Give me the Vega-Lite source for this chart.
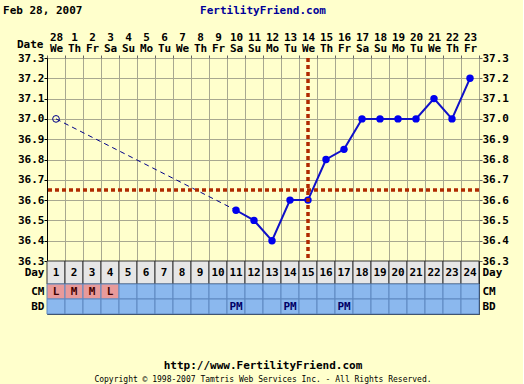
{
  "$schema": "https://vega.github.io/schema/vega-lite/v6.json",
  "background": "#FFFFCC",
  "padding": {"left": 3, "right": 14, "top": 4, "bottom": 0},
  "title": {"text": "Feb 28, 2007", "anchor": "start", "frame": "bounds", "font": "DejaVu Sans Mono", "fontSize": 11, "fontWeight": "bold", "color": "#000000", "dx": -13, "dy": 13, "offset": 2},
  "spacing": 0,
  "bounds": "flush",
  "config": {
    "font": "DejaVu Sans Mono",
    "view": {"stroke": "#A8A890", "fill": "#FFFFCC"},
    "axis": {"labelFont": "DejaVu Sans Mono", "labelFontSize": 11, "labelFontWeight": "bold", "labelColor": "#000000", "labelOverlap": false, "labelFlush": false, "titleFont": "DejaVu Sans Mono"}
  },
  "datasets": {
    "temps": [
      {"day": 1, "temp": 37.0},
      {"day": 11, "temp": 36.55},
      {"day": 12, "temp": 36.5},
      {"day": 13, "temp": 36.4},
      {"day": 14, "temp": 36.6},
      {"day": 15, "temp": 36.6},
      {"day": 16, "temp": 36.8},
      {"day": 17, "temp": 36.85},
      {"day": 18, "temp": 37.0},
      {"day": 19, "temp": 37.0},
      {"day": 20, "temp": 37.0},
      {"day": 21, "temp": 37.0},
      {"day": 22, "temp": 37.1},
      {"day": 23, "temp": 37.0},
      {"day": 24, "temp": 37.2}
    ],
    "coverline": [{"temp": 36.65}],
    "ovulation": [{"day": 15}],
    "days": [
      {"day": 1, "cm": "L", "bd": null},
      {"day": 2, "cm": "M", "bd": null},
      {"day": 3, "cm": "M", "bd": null},
      {"day": 4, "cm": "L", "bd": null},
      {"day": 5, "cm": null, "bd": null},
      {"day": 6, "cm": null, "bd": null},
      {"day": 7, "cm": null, "bd": null},
      {"day": 8, "cm": null, "bd": null},
      {"day": 9, "cm": null, "bd": null},
      {"day": 10, "cm": null, "bd": null},
      {"day": 11, "cm": null, "bd": "PM"},
      {"day": 12, "cm": null, "bd": null},
      {"day": 13, "cm": null, "bd": null},
      {"day": 14, "cm": null, "bd": "PM"},
      {"day": 15, "cm": null, "bd": null},
      {"day": 16, "cm": null, "bd": null},
      {"day": 17, "cm": null, "bd": "PM"},
      {"day": 18, "cm": null, "bd": null},
      {"day": 19, "cm": null, "bd": null},
      {"day": 20, "cm": null, "bd": null},
      {"day": 21, "cm": null, "bd": null},
      {"day": 22, "cm": null, "bd": null},
      {"day": 23, "cm": null, "bd": null},
      {"day": 24, "cm": null, "bd": null}
    ]
  },
  "vconcat": [
    {
      "width": 432,
      "height": 203,
      "title": {"text": "FertilityFriend.com", "anchor": "middle", "font": "DejaVu Sans Mono", "fontSize": 11, "fontWeight": "bold", "color": "#000099", "offset": 15},
      "layer": [
        {
          "data": {"name": "temps"},
          "transform": [{"filter": "datum.day == 1 || datum.day == 11"}],
          "mark": {"type": "line", "color": "#000088", "strokeWidth": 1, "strokeDash": [5, 4]},
          "encoding": {
            "x": {"field": "day", "type": "ordinal", "scale": {"domain": [1,2,3,4,5,6,7,8,9,10,11,12,13,14,15,16,17,18,19,20,21,22,23,24], "paddingInner": 0, "paddingOuter": 0},
              "axis": {"orient": "top", "tickBand": "extent", "grid": true, "gridColor": "#A8A890", "gridOpacity": 1, "domain": false, "ticks": true, "tickSize": 3, "tickColor": "#666666", "labelAngle": 0, "labelPadding": 2,
                "labelExpr": "['Su','Mo','Tu','We','Th','Fr','Sa'][day(datetime(2007, 1, 27 + datum.value))]",
                "title": "Date", "titleFontSize": 11, "titleFontWeight": "bold", "titleColor": "#000000", "titleAngle": 0, "titleAnchor": "start", "titleAlign": "right", "titleBaseline": "middle", "titleX": -4, "titleY": -14}},
            "y": {"field": "temp", "type": "quantitative", "scale": {"domain": [36.3, 37.3], "zero": false, "nice": false}, "axis": null}
          }
        },
        {
          "data": {"name": "temps"},
          "transform": [{"filter": "datum.day >= 11"}],
          "mark": {"type": "line", "color": "#1010C8", "strokeWidth": 2},
          "encoding": {
            "x": {"field": "day", "type": "ordinal", "scale": {"domain": [1,2,3,4,5,6,7,8,9,10,11,12,13,14,15,16,17,18,19,20,21,22,23,24], "paddingInner": 0, "paddingOuter": 0},
              "axis": {"orient": "top", "offset": 16, "grid": false, "domain": false, "ticks": false, "labelAngle": 0, "labelPadding": 0, "title": null,
                "labelExpr": "toString(date(datetime(2007, 1, 27 + datum.value)))"}},
            "y": {"field": "temp", "type": "quantitative", "scale": {"domain": [36.3, 37.3], "zero": false, "nice": false},
              "axis": {"orient": "left", "values": [36.3,36.4,36.5,36.6,36.7,36.8,36.9,37.0,37.1,37.2,37.3], "format": ".1f", "grid": true, "gridColor": "#A8A890", "gridOpacity": 1, "domainColor": "#000000", "tickColor": "#000000", "tickSize": 3, "labelPadding": 0, "title": null}}
          }
        },
        {
          "data": {"name": "temps"},
          "transform": [{"filter": "datum.day >= 11"}],
          "mark": {"type": "point", "filled": true, "size": 55, "color": "#0000EE", "opacity": 1},
          "encoding": {
            "x": {"field": "day", "type": "ordinal", "scale": {"domain": [1,2,3,4,5,6,7,8,9,10,11,12,13,14,15,16,17,18,19,20,21,22,23,24], "paddingInner": 0, "paddingOuter": 0}, "axis": null},
            "y": {"field": "temp", "type": "quantitative", "scale": {"domain": [36.3, 37.3], "zero": false, "nice": false},
              "axis": {"orient": "right", "values": [36.3,36.4,36.5,36.6,36.7,36.8,36.9,37.0,37.1,37.2,37.3], "format": ".1f", "grid": false, "domain": false, "tickColor": "#666666", "tickSize": 3, "labelPadding": 0, "title": null}}
          }
        },
        {
          "data": {"name": "temps"},
          "transform": [{"filter": "datum.day == 1"}],
          "mark": {"type": "point", "filled": false, "size": 45, "strokeWidth": 1, "color": "#000088", "opacity": 1},
          "encoding": {
            "x": {"field": "day", "type": "ordinal", "scale": {"domain": [1,2,3,4,5,6,7,8,9,10,11,12,13,14,15,16,17,18,19,20,21,22,23,24], "paddingInner": 0, "paddingOuter": 0}, "axis": null},
            "y": {"field": "temp", "type": "quantitative", "scale": {"domain": [36.3, 37.3], "zero": false, "nice": false}, "axis": null}
          }
        },
        {
          "data": {"name": "coverline"},
          "mark": {"type": "rule", "color": "#B02A00", "strokeWidth": 3.5, "strokeDash": [4, 3]},
          "encoding": {
            "y": {"field": "temp", "type": "quantitative", "scale": {"domain": [36.3, 37.3], "zero": false, "nice": false}, "axis": null}
          }
        },
        {
          "data": {"name": "ovulation"},
          "mark": {"type": "rule", "color": "#B02A00", "strokeWidth": 3.5, "strokeDash": [4, 3]},
          "encoding": {
            "x": {"field": "day", "type": "ordinal", "scale": {"domain": [1,2,3,4,5,6,7,8,9,10,11,12,13,14,15,16,17,18,19,20,21,22,23,24], "paddingInner": 0, "paddingOuter": 0}, "axis": null}
          }
        }
      ],
      "resolve": {"scale": {"x": "independent", "y": "independent"}, "axis": {"x": "independent", "y": "independent"}}
    },
    {
      "width": 432,
      "height": 23,
      "data": {"name": "days"},
      "view": {"stroke": "#222222"},
      "layer": [
        {
          "mark": {"type": "rect", "fill": "#E6E6E6", "stroke": "#333333", "strokeWidth": 1},
          "encoding": {
            "x": {"field": "day", "type": "ordinal", "scale": {"domain": [1,2,3,4,5,6,7,8,9,10,11,12,13,14,15,16,17,18,19,20,21,22,23,24], "paddingInner": 0, "paddingOuter": 0}, "axis": null},
            "y": {"datum": "Day", "type": "nominal", "scale": {"paddingInner": 0, "paddingOuter": 0}, "axis": {"orient": "right", "title": null, "domain": false, "ticks": false, "labelPadding": 3}}
          }
        },
        {
          "mark": {"type": "text", "font": "DejaVu Sans Mono", "fontSize": 11, "fontWeight": "bold", "color": "#000000"},
          "encoding": {
            "x": {"field": "day", "type": "ordinal"},
            "y": {"datum": "Day", "type": "nominal", "axis": {"orient": "left", "title": null, "domain": false, "ticks": false, "labelPadding": 3}},
            "text": {"field": "day"}
          }
        }
      ],
      "resolve": {"scale": {"y": "independent"}, "axis": {"y": "independent"}}
    },
    {
      "width": 432,
      "height": 15,
      "data": {"name": "days"},
      "view": {"stroke": "#222222"},
      "layer": [
        {
          "mark": {"type": "rect", "stroke": "#5F88C0", "strokeWidth": 1},
          "encoding": {
            "x": {"field": "day", "type": "ordinal", "scale": {"domain": [1,2,3,4,5,6,7,8,9,10,11,12,13,14,15,16,17,18,19,20,21,22,23,24], "paddingInner": 0, "paddingOuter": 0}, "axis": null},
            "y": {"datum": "CM", "type": "nominal", "scale": {"paddingInner": 0, "paddingOuter": 0}, "axis": {"orient": "right", "title": null, "domain": false, "ticks": false, "labelPadding": 3}},
            "fill": {"condition": {"test": "datum.cm != null", "value": "#E89A9A"}, "value": "#8BB8EE"}
          }
        },
        {
          "transform": [{"filter": "datum.cm != null"}],
          "mark": {"type": "text", "font": "DejaVu Sans Mono", "fontSize": 11, "fontWeight": "bold", "color": "#400000"},
          "encoding": {
            "x": {"field": "day", "type": "ordinal"},
            "y": {"datum": "CM", "type": "nominal", "axis": {"orient": "left", "title": null, "domain": false, "ticks": false, "labelPadding": 3}},
            "text": {"field": "cm"}
          }
        }
      ],
      "resolve": {"scale": {"y": "independent"}, "axis": {"y": "independent"}}
    },
    {
      "width": 432,
      "height": 15,
      "data": {"name": "days"},
      "view": {"stroke": "#222222"},
      "title": {"text": "http://www.FertilityFriend.com", "orient": "bottom", "anchor": "middle", "font": "DejaVu Sans Mono", "fontSize": 11, "fontWeight": "bold", "color": "#000000", "offset": 45,
        "subtitle": "Copyright © 1998-2007 Tamtris Web Services Inc. - All Rights Reserved.", "subtitleFont": "DejaVu Sans Mono", "subtitleFontSize": 8, "subtitleColor": "#000000", "subtitlePadding": 5},
      "layer": [
        {
          "mark": {"type": "rect", "fill": "#8BB8EE", "stroke": "#5F88C0", "strokeWidth": 1},
          "encoding": {
            "x": {"field": "day", "type": "ordinal", "scale": {"domain": [1,2,3,4,5,6,7,8,9,10,11,12,13,14,15,16,17,18,19,20,21,22,23,24], "paddingInner": 0, "paddingOuter": 0}, "axis": null},
            "y": {"datum": "BD", "type": "nominal", "scale": {"paddingInner": 0, "paddingOuter": 0}, "axis": {"orient": "right", "title": null, "domain": false, "ticks": false, "labelPadding": 3}}
          }
        },
        {
          "transform": [{"filter": "datum.bd != null"}],
          "mark": {"type": "text", "font": "DejaVu Sans Mono", "fontSize": 11, "fontWeight": "bold", "color": "#000066"},
          "encoding": {
            "x": {"field": "day", "type": "ordinal"},
            "y": {"datum": "BD", "type": "nominal", "axis": {"orient": "left", "title": null, "domain": false, "ticks": false, "labelPadding": 3}},
            "text": {"field": "bd"}
          }
        }
      ],
      "resolve": {"scale": {"y": "independent"}, "axis": {"y": "independent"}}
    }
  ]
}
